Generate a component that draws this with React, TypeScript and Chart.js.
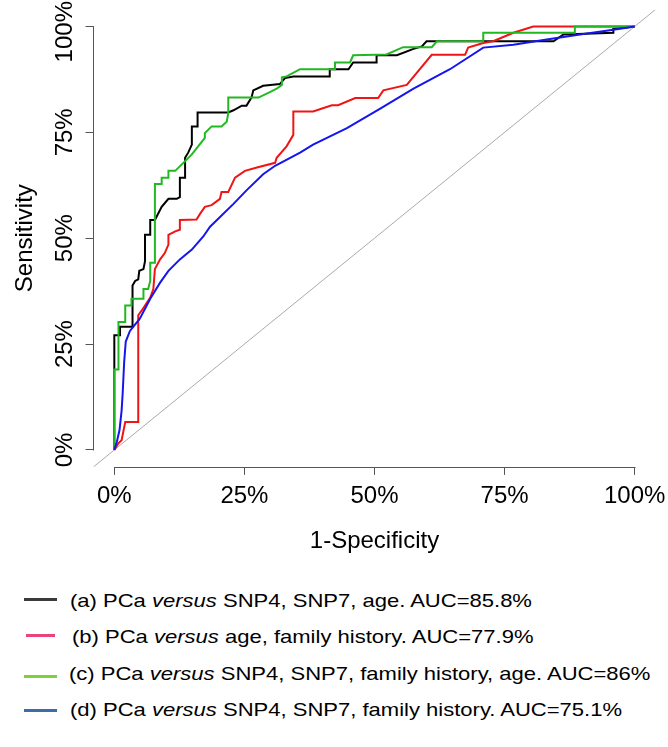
import React, { useEffect, useRef } from "react";
import { Chart, registerables } from "chart.js";

Chart.register(...registerables);

// ---------- data ----------
const tickValues = [0, 25, 50, 75, 100];
const xTitle = "1-Specificity";
const yTitle = "Sensitivity";

// (a) SNP4, SNP7, age
const fprA = [0, 0, 1.1, 1.1, 3.5, 3.5, 4.0, 4.6, 4.8, 5.6, 5.9, 5.9, 6.9, 6.9, 7.8, 9.1, 10.4, 12.0, 12.6, 12.6, 13.6, 13.6, 14.2, 14.9, 14.9, 16.0, 16.0, 21.9, 22.9, 24.5, 25.4, 26.4, 26.7, 28.6, 31.8, 32.8, 34.4, 41.4, 41.4, 45.0, 45.9, 50.4, 50.4, 54.3, 57.5, 59.1, 60.0, 84.4, 86.3, 95.9, 95.9, 100];
const tprA = [0, 27.1, 27.1, 29.1, 29.1, 38.8, 39.9, 40.3, 42.3, 42.7, 44.6, 50.8, 50.8, 54.3, 54.3, 57.4, 59.3, 59.3, 59.7, 64.3, 64.3, 69.0, 70.2, 72.1, 76.4, 76.4, 79.7, 79.7, 80.2, 81.3, 81.3, 83.3, 84.9, 86.0, 86.4, 87.8, 88.2, 88.2, 89.9, 89.9, 91.5, 91.5, 93.2, 93.2, 94.7, 95.3, 96.5, 96.5, 98.1, 98.5, 99.4, 100];

// (b) age, family history
const fprB = [0, 0.8, 1.4, 2.1, 4.6, 4.6, 5.3, 6.9, 7.5, 7.8, 8.8, 9.7, 10.4, 10.4, 11.7, 12.6, 12.6, 15.8, 16.5, 17.4, 18.7, 20.3, 20.6, 21.9, 23.2, 25.1, 27.4, 30.9, 31.2, 33.1, 34.4, 34.4, 38.2, 41.8, 43.0, 46.3, 50.7, 51.7, 56.2, 61.0, 67.4, 68.0, 70.9, 72.8, 76.7, 80.5, 100];
const tprB = [0, 1.6, 2.3, 6.6, 6.6, 31.8, 33.0, 36.0, 38.0, 42.7, 45.0, 46.5, 48.5, 50.8, 51.6, 52.0, 54.3, 54.4, 55.8, 57.4, 57.8, 59.3, 60.9, 60.9, 64.3, 65.9, 66.7, 67.8, 69.0, 71.7, 74.4, 79.9, 79.9, 81.4, 81.4, 83.1, 83.1, 84.9, 86.2, 93.3, 93.3, 95.0, 96.1, 96.5, 98.5, 100, 100];

// (c) SNP4, SNP7, family history, age
const fprC = [0, 0, 0.8, 0.8, 2.1, 2.1, 3.3, 3.3, 5.6, 5.6, 6.5, 6.9, 6.9, 7.8, 7.8, 9.1, 9.1, 10.4, 10.4, 11.7, 13.6, 14.9, 17.4, 17.4, 18.7, 20.6, 21.6, 21.9, 21.9, 27.7, 29.9, 31.2, 32.2, 32.2, 33.1, 35.7, 42.4, 42.4, 45.3, 45.9, 52.3, 55.5, 61.0, 62.0, 70.9, 70.9, 88.5, 88.5, 100];
const tprC = [0, 19.0, 19.0, 30.2, 30.2, 34.1, 34.1, 35.7, 35.7, 38.0, 38.0, 39.9, 44.2, 44.2, 62.8, 62.8, 64.3, 64.3, 65.9, 65.9, 68.2, 69.8, 73.7, 74.8, 76.4, 76.4, 77.5, 79.5, 83.2, 83.2, 84.5, 85.3, 86.2, 88.0, 88.2, 89.9, 89.9, 91.5, 91.5, 93.2, 93.4, 95.1, 95.1, 96.5, 96.5, 98.5, 98.5, 100, 100];

// (d) SNP4, SNP7, family history
const fprD = [0, 0.5, 1.0, 1.4, 1.6, 1.9, 2.2, 3.0, 4.9, 6.9, 8.8, 10.4, 12.6, 14.9, 17.1, 18.4, 22.9, 25.4, 28.6, 30.9, 35.7, 38.2, 44.7, 51.1, 57.5, 64.5, 70.9, 76.7, 83.1, 89.5, 95.9, 100];
const tprD = [0, 2.0, 4.7, 9.3, 13.2, 20.9, 25.6, 28.1, 31.0, 35.7, 39.5, 42.3, 45.0, 47.3, 50.4, 52.7, 58.1, 61.3, 65.1, 67.1, 70.2, 72.1, 76.0, 80.6, 85.3, 89.9, 95.0, 95.7, 96.9, 98.1, 99.2, 100];

// chance diagonal (spans the whole plot region)
const diagX = [-4, 104];
const diagY = [-4, 104];

// legend texts
const legendTags = ["(a) PCa ", "(b) PCa ", "(c) PCa ", "(d) PCa "];
const legendItalic = "versus";
const legendTails = [
  " SNP4, SNP7, age. AUC=85.8%",
  " age, family history. AUC=77.9%",
  " SNP4, SNP7, family history, age. AUC=86%",
  " SNP4, SNP7, family history. AUC=75.1%",
];

// ---------- styles ----------
const FONT = '"Liberation Sans", Arial, Helvetica, sans-serif';
const AXIS_COLOR = "#555555";
const lineColors = ["#000000", "#f01515", "#22b822", "#1515ee"];
const legendSwatchColors = ["#3a3a3a", "#e8457f", "#7fd13b", "#3b6ea5"];
const legendTextY = [600.3, 637, 674, 709.7];
const legendSwatchY = [599.3, 635, 676.7, 710.7];
const legendTextX = [70, 72, 69, 70];

const pts = (xs: number[], ys: number[]) => xs.map((x, i) => ({ x, y: ys[i] }));

export default function App() {
  const canvasRef = useRef<HTMLCanvasElement | null>(null);

  useEffect(() => {
    const canvas = canvasRef.current;
    if (!canvas) return;

    const rAxes = {
      id: "rAxes",
      afterDraw(chart: any) {
        const { ctx, chartArea, scales } = chart;
        const xs = scales.x;
        const ys = scales.y;
        const first = tickValues[0];
        const last = tickValues[tickValues.length - 1];
        ctx.save();
        ctx.strokeStyle = AXIS_COLOR;
        ctx.lineWidth = 1;
        ctx.beginPath();
        const yb = Math.round(chartArea.bottom) + 0.5;
        ctx.moveTo(Math.round(xs.getPixelForValue(first)) + 0.5, yb);
        ctx.lineTo(Math.round(xs.getPixelForValue(last)) + 0.5, yb);
        const xl = Math.round(chartArea.left) - 0.5;
        ctx.moveTo(xl, Math.round(ys.getPixelForValue(first)) + 0.5);
        ctx.lineTo(xl, Math.round(ys.getPixelForValue(last)) + 0.5);
        ctx.stroke();

        ctx.fillStyle = "#000000";
        ctx.font = `24px ${FONT}`;
        ctx.textAlign = "center";
        ctx.textBaseline = "alphabetic";
        tickValues.forEach((v) => {
          const label = `${v}%`;
          const w = ctx.measureText(label).width;
          const py = Math.max(ys.getPixelForValue(v), w / 2 + 1);
          ctx.save();
          ctx.translate(chartArea.left - 21.5, py);
          ctx.rotate(-Math.PI / 2);
          ctx.fillText(label, 0, 0);
          ctx.restore();
        });
        ctx.restore();
      },
    };

    const setTicks = (s: any) => {
      s.ticks = tickValues.map((v) => ({ value: v }));
    };
    const noPad = (s: any) => {
      s.paddingLeft = 0;
      s.paddingRight = 0;
      s.paddingTop = 0;
      s.paddingBottom = 0;
    };

    const mk = (data: any[], color: string, order: number, width = 2) => ({
      data,
      borderColor: color,
      backgroundColor: color,
      borderWidth: width,
      showLine: true,
      pointRadius: 0,
      pointHoverRadius: 0,
      tension: 0,
      fill: false,
      order,
    });

    const chart = new Chart(canvas, {
      type: "scatter",
      data: {
        datasets: [
          mk(pts(diagX, diagY), "#aaaaaa", 10, 1),
          mk(pts(fprA, tprA), lineColors[0], 4),
          mk(pts(fprB, tprB), lineColors[1], 3),
          mk(pts(fprC, tprC), lineColors[2], 2),
          mk(pts(fprD, tprD), lineColors[3], 1),
        ],
      },
      options: {
        responsive: false,
        animation: false,
        events: [],
        layout: { padding: { left: 0, top: 9.5, right: 12.5, bottom: 24.5 } },
        plugins: {
          legend: { display: false },
          tooltip: { enabled: false },
        },
        scales: {
          x: {
            type: "linear",
            min: -4,
            max: 104,
            bounds: "data",
            afterBuildTicks: setTicks,
            afterFit: noPad,
            grid: {
              display: true,
              drawOnChartArea: false,
              drawTicks: true,
              tickLength: 8,
              color: AXIS_COLOR,
              lineWidth: 1,
            },
            border: { display: false },
            ticks: {
              display: true,
              autoSkip: false,
              maxRotation: 0,
              minRotation: 0,
              padding: 7,
              color: "#000000",
              font: { size: 24, family: FONT },
              callback: (v: any) => `${Math.round(Number(v))}%`,
            },
            title: {
              display: true,
              text: xTitle,
              color: "#000000",
              font: { size: 24, family: FONT },
              padding: { top: 9, bottom: 0 },
            },
          },
          y: {
            type: "linear",
            min: -4,
            max: 104,
            bounds: "data",
            afterBuildTicks: setTicks,
            afterFit: noPad,
            grid: {
              display: true,
              drawOnChartArea: false,
              drawTicks: true,
              tickLength: 8,
              color: AXIS_COLOR,
              lineWidth: 1,
            },
            border: { display: false },
            ticks: { display: false },
            title: {
              display: true,
              text: yTitle,
              color: "#000000",
              font: { size: 24, family: FONT },
              padding: { top: 11.2, bottom: 45.5 },
            },
          },
        },
      },
      plugins: [rAxes],
    } as any);

    return () => chart.destroy();
  }, []);

  return (
    <div
      style={{
        position: "absolute",
        left: 0,
        top: 0,
        width: 668,
        height: 747,
        overflow: "hidden",
        background: "#ffffff",
        fontFamily: FONT,
      }}
    >
      <canvas ref={canvasRef} width={668} height={580} style={{ display: "block" }} />
      {legendTags.map((tag, i) => (
        <React.Fragment key={tag}>
          <div
            style={{
              position: "absolute",
              left: i === 1 ? 26 : 24,
              width: i === 1 ? 29 : 33,
              top: legendSwatchY[i] - 1.5,
              height: 3,
              background: legendSwatchColors[i],
            }}
          />
          <div
            style={{
              position: "absolute",
              left: legendTextX[i],
              top: legendTextY[i] - 10.8,
              fontSize: "18.5px",
              lineHeight: "22px",
              whiteSpace: "nowrap",
              color: "#000000",
              transform: "scaleX(1.19)",
              transformOrigin: "0 50%",
            }}
          >
            {tag}
            <i>{legendItalic}</i>
            {legendTails[i]}
          </div>
        </React.Fragment>
      ))}
    </div>
  );
}
